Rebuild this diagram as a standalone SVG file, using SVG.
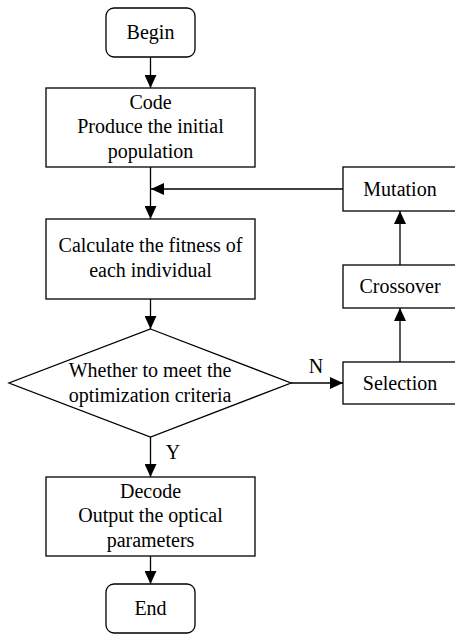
<svg xmlns="http://www.w3.org/2000/svg" width="455" height="635" viewBox="0 0 455 635">
<style>
.s{fill:#fff;stroke:#000;stroke-width:1.3}
.t{font-family:"Liberation Serif","Times New Roman",serif;font-size:20px;fill:#000;text-anchor:middle}
.c{fill:none;stroke:#000;stroke-width:1.3}
</style>
<defs>
<marker id="ah" viewBox="0 0 13 12" refX="13" refY="6" markerWidth="13" markerHeight="12" markerUnits="userSpaceOnUse" orient="auto">
<path d="M0,0 L13,6 L0,12 z" fill="#000"/>
</marker>
</defs>
<rect width="455" height="635" fill="#fff"/>
<g id="connectors">
<path class="c" d="M150.5,57 V88" marker-end="url(#ah)"/>
<path class="c" d="M150.5,167 V219" marker-end="url(#ah)"/>
<path class="c" d="M343,189 H151" marker-end="url(#ah)"/>
<path class="c" d="M150.5,299 V329" marker-end="url(#ah)"/>
<path class="c" d="M291,383 H343" marker-end="url(#ah)"/>
<path class="c" d="M400,362 V308" marker-end="url(#ah)"/>
<path class="c" d="M400,265 V211" marker-end="url(#ah)"/>
<path class="c" d="M150.5,437 V477" marker-end="url(#ah)"/>
<path class="c" d="M150.5,556 V584" marker-end="url(#ah)"/>
<text class="t" x="316" y="373">N</text>
<text class="t" x="173" y="459">Y</text>
</g>
<g id="begin">
<rect class="s" x="106" y="8" width="89" height="49" rx="8"/>
<text class="t" x="150.5" y="39">Begin</text>
</g>
<g id="code">
<rect class="s" x="46" y="88" width="209" height="79"/>
<text class="t" x="150.5" y="108.5">Code</text>
<text class="t" x="150.5" y="133">Produce the initial</text>
<text class="t" x="150.5" y="157.5">population</text>
</g>
<g id="calculate">
<rect class="s" x="46" y="219" width="209" height="80"/>
<text class="t" x="150.5" y="252">Calculate the fitness of</text>
<text class="t" x="150.5" y="277">each individual</text>
</g>
<g id="decision">
<polygon class="s" points="150.5,329 291,383 150.5,437 9,383"/>
<text class="t" x="150" y="377">Whether to meet the</text>
<text class="t" x="150" y="402">optimization criteria</text>
</g>
<g id="selection">
<rect class="s" x="343" y="362" width="114" height="42"/>
<text class="t" x="400" y="390">Selection</text>
</g>
<g id="crossover">
<rect class="s" x="343" y="265" width="114" height="43"/>
<text class="t" x="400" y="293">Crossover</text>
</g>
<g id="mutation">
<rect class="s" x="343" y="167" width="114" height="44"/>
<text class="t" x="400" y="196">Mutation</text>
</g>
<g id="decode">
<rect class="s" x="46" y="477" width="209" height="79"/>
<text class="t" x="150.5" y="497.5">Decode</text>
<text class="t" x="150.5" y="522">Output the optical</text>
<text class="t" x="150.5" y="546.5">parameters</text>
</g>
<g id="end">
<rect class="s" x="106" y="584" width="89" height="49" rx="8"/>
<text class="t" x="150.5" y="615">End</text>
</g>
</svg>
